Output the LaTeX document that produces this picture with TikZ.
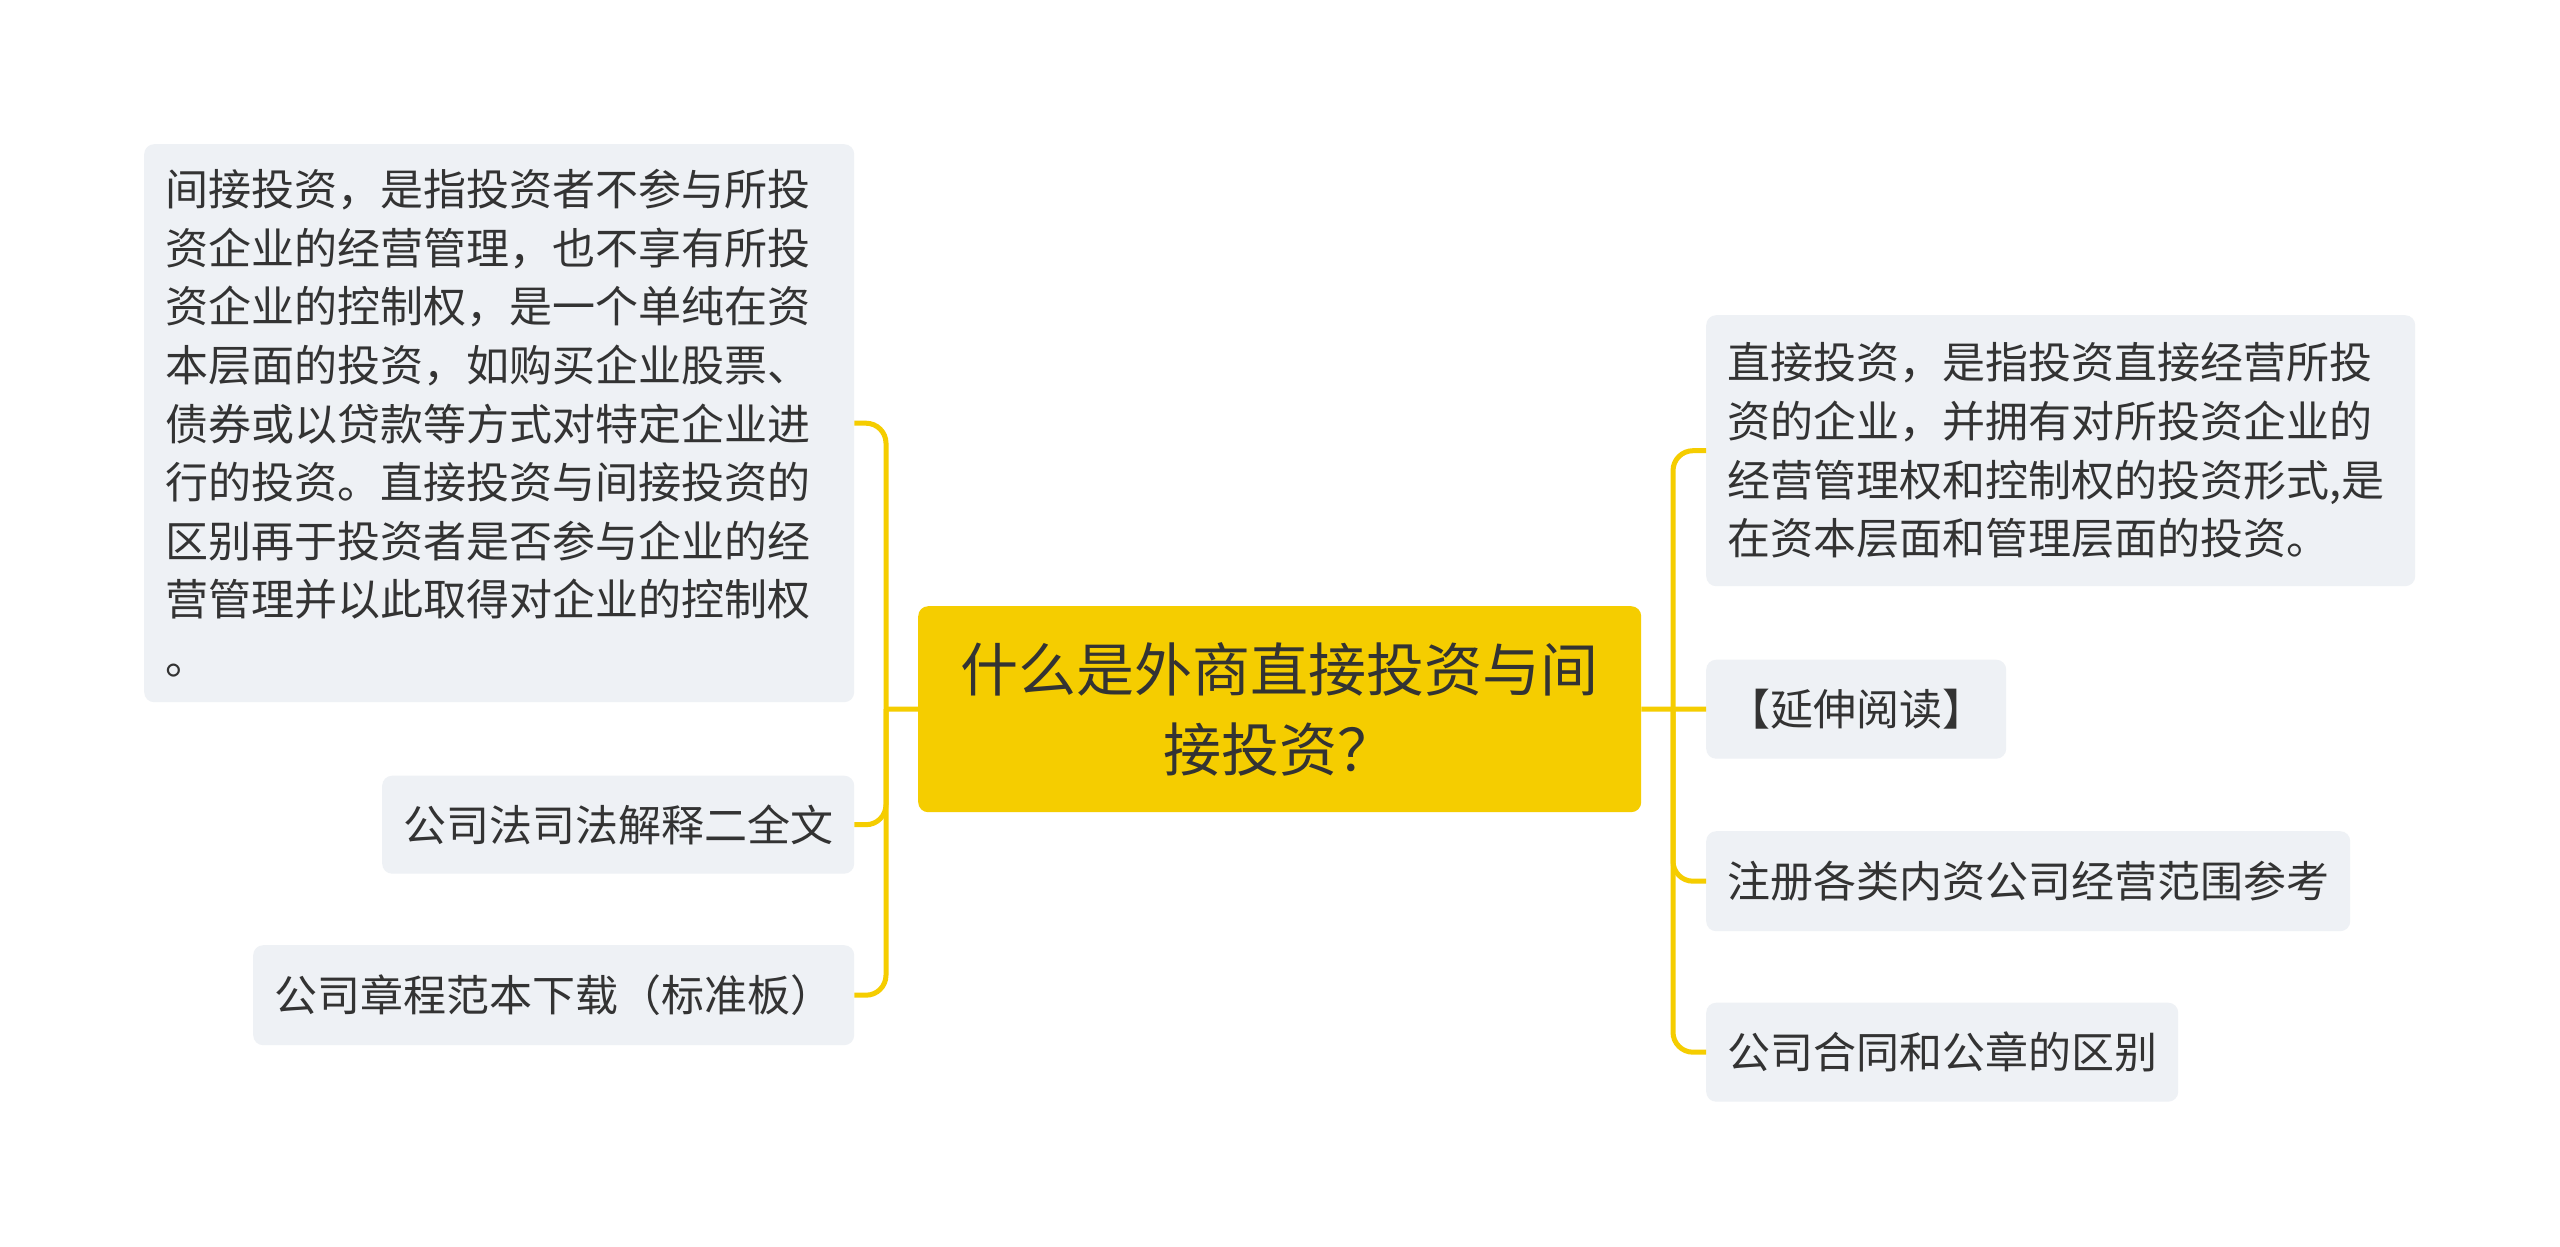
\documentclass[tikz,border=0pt]{standalone}
\usepackage{fontspec}
\setmainfont{Noto Sans CJK SC}
\definecolor{yel}{HTML}{F5CD00}
\definecolor{boxbg}{HTML}{EEF1F5}
\definecolor{txt}{HTML}{333333}
\tikzset{
  conn/.style={draw=yel, line width=5pt},
  leaf/.style={fill=boxbg, rounded corners=10pt, text=txt, font=\fontsize{43}{58.6}\selectfont, inner xsep=21pt, inner ysep=0pt, anchor=north west},
  rootbox/.style={fill=yel, rounded corners=10pt, text=txt, font=\fontsize{58}{80}\selectfont, anchor=north west, align=center, inner sep=0pt}
}
\begin{document}
\begin{tikzpicture}[x=1pt,y=-1pt]
\fill[white] (0,0) rectangle (2560,1247);
\useasboundingbox (0,0) rectangle (2560,1247);
% connectors first (under boxes)
\coordinate (lj) at (886,709);
\coordinate (rj) at (1673,709);
% root
\node[rootbox, minimum width=723pt, minimum height=206pt] (root) at (918,606) {什么是外商直接投资与间\\接投资？};
% left
\node[leaf, minimum width=710pt, minimum height=558pt, text width=668pt, align=left] (L1) at (144,144) {间接投资，是指投资者不参与所投\\资企业的经营管理，也不享有所投\\资企业的控制权，是一个单纯在资\\本层面的投资，如购买企业股票、\\债券或以贷款等方式对特定企业进\\行的投资。直接投资与间接投资的\\区别再于投资者是否参与企业的经\\营管理并以此取得对企业的控制权\\。};
\node[leaf, minimum width=472pt, minimum height=98pt] (L2) at (382,775.5) {公司法司法解释二全文};
\node[leaf, minimum width=601pt, minimum height=100pt] (L3) at (253,945) {公司章程范本下载（标准板）};
% right
\node[leaf, minimum width=709pt, minimum height=271pt, text width=667pt, align=left] (R1) at (1706,315) {直接投资，是指投资直接经营所投\\资的企业，并拥有对所投资企业的\\经营管理权和控制权的投资形式,是\\在资本层面和管理层面的投资。};
\node[leaf, minimum width=300pt, minimum height=99pt] (R2) at (1706,659.5) {【延伸阅读】};
\node[leaf, minimum width=642pt, minimum height=100pt] (R3) at (1706,831) {注册各类内资公司经营范围参考};
\node[leaf, minimum width=470pt, minimum height=99pt] (R4) at (1706,1002.5) {公司合同和公章的区别};
\draw[conn] (root.west) -- (lj);
\draw[conn, rounded corners=20pt] (lj) |- (L1.east);
\draw[conn, rounded corners=20pt] (lj) |- (L2.east);
\draw[conn, rounded corners=20pt] (lj) |- (L3.east);
\draw[conn] (root.east) -- (rj);
\draw[conn, rounded corners=20pt] (rj) |- (R1.west);
\draw[conn] (rj) -- (R2.west);
\draw[conn, rounded corners=20pt] (rj) |- (R3.west);
\draw[conn, rounded corners=20pt] (rj) |- (R4.west);
\end{tikzpicture}
\end{document}
